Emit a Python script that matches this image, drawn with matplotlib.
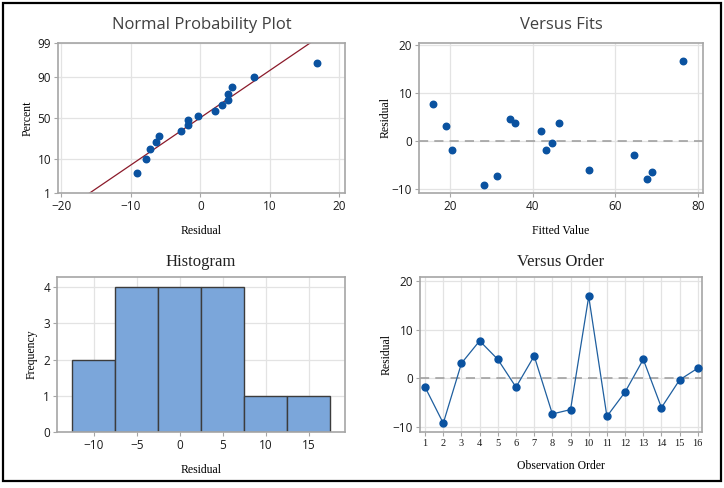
import matplotlib
matplotlib.use("Agg")
import matplotlib.pyplot as plt
from matplotlib.patches import Rectangle
from statistics import NormalDist
import numpy as np

# residuals in observation order, and the fitted value of each observation
residuals = [-1.8, -9.2, 3.1, 7.7, 3.9, -1.8, 4.6, -7.3, -6.4, 16.8, -7.8, -2.8, 3.9, -6.0, -0.3, 2.1]
fitted = [43.2, 28.2, 19.1, 16.0, 35.7, 20.6, 34.5, 31.5, 68.9, 76.5, 67.7, 64.7, 46.3, 53.8, 44.8, 42.0]
order = list(range(1, 17))
pct_ticks = [1, 10, 50, 90, 99]
hist_bins = [-12.5, -7.5, -2.5, 2.5, 7.5, 12.5, 17.5]

BLUE = "#0a52a0"
SANS = "Open Sans"
SERIF = "Liberation Serif"
SPINE = "#a6a6a6"
GRID = "#e3e3e3"

fig = plt.figure(figsize=(7.24, 4.88), dpi=100)
fig.patches.append(Rectangle((3 / 724, 7 / 488), 718 / 724, 478 / 488, transform=fig.transFigure,
                             fill=False, edgecolor="black", linewidth=1.6))


def style(ax):
    for s in ax.spines.values():
        s.set_color(SPINE)
        s.set_linewidth(1.2)
    ax.grid(True, color=GRID, linewidth=0.9)
    ax.set_axisbelow(True)
    ax.tick_params(length=3, width=0.8, color=SPINE, labelsize=8.5, labelcolor="#1a1a1a", pad=2)
    for lab in ax.get_xticklabels() + ax.get_yticklabels():
        lab.set_fontfamily(SANS)


nd = NormalDist()

# --- Normal probability plot
ax1 = fig.add_axes([58 / 724, 1 - 193 / 488, 287 / 724, 150 / 488])
n = len(residuals)
srt = np.sort(residuals)
z = [nd.inv_cdf((i - 0.3) / (n + 0.4)) for i in range(1, n + 1)]
mu, sd = np.mean(residuals), np.std(residuals, ddof=1)
zl = np.array([nd.inv_cdf(0.001), nd.inv_cdf(0.999)])
ax1.plot(mu + sd * zl, zl, color="#8b1a2a", linewidth=0.9)
ax1.scatter(srt, z, s=22, color=BLUE, zorder=3)
ax1.set_xlim(-20.5, 20.8)
ax1.set_ylim(nd.inv_cdf(0.01), nd.inv_cdf(0.99))
ax1.set_xticks([-20, -10, 0, 10, 20])
ax1.set_yticks([nd.inv_cdf(p / 100) for p in pct_ticks])
ax1.set_yticklabels([str(p) for p in pct_ticks])
style(ax1)
ax1.set_title("Normal Probability Plot", fontfamily=SANS, fontsize=12, color="#404040", pad=10)
ax1.set_xlabel("Residual", fontfamily=SERIF, fontsize=8.5, labelpad=9)
ax1.set_ylabel("Percent", fontfamily=SERIF, fontsize=8.5, labelpad=3)

# --- Versus fits
ax2 = fig.add_axes([419 / 724, 1 - 193 / 488, 284 / 724, 150 / 488])
ax2.axhline(0, color="#9a9a9a", linewidth=1.1, linestyle=(0, (6, 4)))
ax2.scatter(fitted, residuals, s=22, color=BLUE, zorder=3)
ax2.set_xlim(12.5, 81.3)
ax2.set_ylim(-10.8, 20.5)
ax2.set_xticks([20, 40, 60, 80])
ax2.set_yticks([-10, 0, 10, 20])
style(ax2)
ax2.set_title("Versus Fits", fontfamily=SANS, fontsize=12, color="#404040", pad=10)
ax2.set_xlabel("Fitted Value", fontfamily=SERIF, fontsize=8.5, labelpad=9)
ax2.set_ylabel("Residual", fontfamily=SERIF, fontsize=8.5, labelpad=0)

# --- Histogram
ax3 = fig.add_axes([57 / 724, 1 - 432 / 488, 288 / 724, 155 / 488])
ax3.hist(residuals, bins=hist_bins, color="#7ba6da", edgecolor="#3c3c3c", linewidth=1.0)
ax3.set_xlim(-14.3, 19.2)
ax3.set_ylim(0, 4.28)
ax3.set_xticks([-10, -5, 0, 5, 10, 15])
ax3.set_yticks([0, 1, 2, 3, 4])
style(ax3)
ax3.set_title("Histogram", fontfamily=SERIF, fontsize=12, color="#222222", pad=8)
ax3.set_xlabel("Residual", fontfamily=SERIF, fontsize=8.5, labelpad=9)
ax3.set_ylabel("Frequency", fontfamily=SERIF, fontsize=8.5, labelpad=4)

# --- Versus order
ax4 = fig.add_axes([420 / 724, 1 - 432 / 488, 282 / 724, 155 / 488])
ax4.axhline(0, color="#9a9a9a", linewidth=1.1, linestyle=(0, (6, 4)))
ax4.plot(order, residuals, color="#1f5f9f", linewidth=0.9, marker="o", markersize=5,
         markerfacecolor=BLUE, markeredgecolor=BLUE, zorder=3)
ax4.set_xlim(0.72, 16.23)
ax4.set_ylim(-11.0, 20.8)
ax4.set_xticks(order)
ax4.set_yticks([-10, 0, 10, 20])
style(ax4)
ax4.tick_params(axis="x", labelsize=7.5)
for lab in ax4.get_xticklabels():
    lab.set_fontfamily(SERIF)
ax4.set_title("Versus Order", fontfamily=SERIF, fontsize=12, color="#222222", pad=8)
ax4.set_xlabel("Observation Order", fontfamily=SERIF, fontsize=8.5, labelpad=9)
ax4.set_ylabel("Residual", fontfamily=SERIF, fontsize=8.5, labelpad=0)

fig.savefig("out.png", dpi=100)
